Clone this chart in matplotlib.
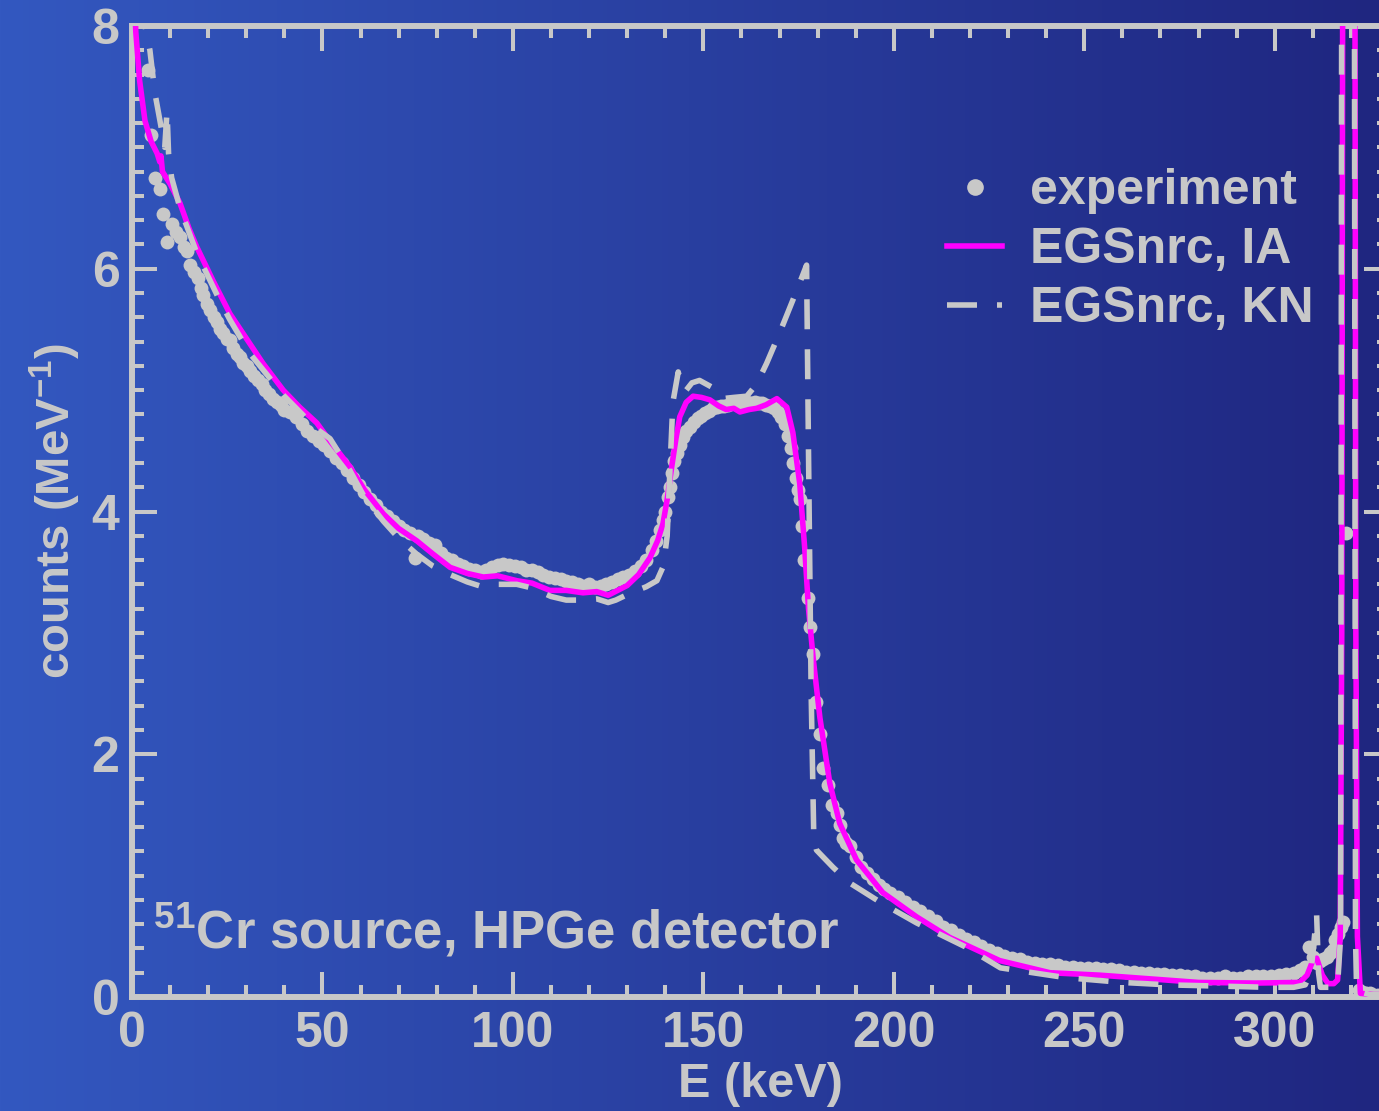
import numpy as np
import matplotlib
matplotlib.use("Agg")
import matplotlib.pyplot as plt
from matplotlib.ticker import MultipleLocator

# ---------------- data ----------------
E_exp = [4.2, 5.0, 6.0, 7.3, 8.2, 9.1, 10.4, 11.5, 12.6, 13.6, 14.4, 15.2, 16.2, 17.3, 18.0,
         18.7, 19.6, 20.5, 21.4, 22.3, 23.2, 24.0, 24.9, 25.7, 26.6, 27.5, 28.3, 29.2, 30.1,
         31.0, 32.0, 33.0, 34.0, 35.0, 36.0, 37.0, 38.0, 39.0, 40.0, 41.5, 43.0, 44.5, 46.0,
         47.5, 49.0, 50.5, 52.0, 53.5, 55.0, 56.5, 58.0, 59.5, 61.0, 62.5, 64.0, 65.5, 67.0,
         68.5, 70.0, 71.5, 73.0, 74.3, 75.0, 76.5, 78.0, 79.5, 81.0, 82.5, 84.0, 85.5, 87.0,
         88.5, 90.0, 91.5, 93.0, 94.5, 96.0, 97.5, 99.0, 100.5, 102.0, 103.5, 105.0, 106.5,
         108.0, 109.5, 111.0, 112.5, 114.0, 115.5, 117.0, 118.5, 120.0, 121.5, 123.0, 124.5,
         126.0, 127.5, 129.0, 130.5, 132.0, 133.5, 135.0, 136.5, 137.5, 138.5, 139.3, 140.0,
         140.6, 141.2, 141.8, 142.4, 143.0, 143.8, 144.6, 145.5, 146.5, 147.5, 148.5, 149.5,
         150.5, 151.5, 152.5, 153.5, 154.5, 155.5, 156.5, 157.5, 158.5, 159.5, 160.5, 161.5,
         162.5, 163.5, 164.5, 165.5, 166.5, 167.5, 168.5, 169.5, 170.5, 171.5, 172.3, 173.0,
         173.5, 174.2, 174.8, 175.3, 175.9, 176.5, 177.4, 178.1, 178.8, 179.7, 180.6, 181.4,
         182.6, 183.7, 185.0, 185.8, 186.6, 187.5, 188.5, 190.0, 191.5, 193.0, 194.5, 196.0,
         197.5, 199.0, 201, 203, 205, 207, 209, 211, 213, 215, 217, 219, 221, 223, 225, 227,
         229, 231, 233, 235, 237, 239, 241, 243, 245, 247, 249, 251, 253, 255, 257, 259, 261,
         263, 265, 267, 269, 271, 273, 275, 277, 279, 281, 283, 285, 287, 289, 291, 293, 295,
         297, 299, 301, 303, 305, 306.6, 308.0, 309.0, 310.0, 311.0, 311.8, 312.8, 313.6,
         314.5, 315.3, 315.7, 316.5, 317.3, 317.8, 318.6, 319.5, 320.5, 322.0, 323, 324, 325,
         326, 327, 328, 329, 330]
y_exp = [7.64, 7.10, 6.75, 6.66, 6.45, 6.22, 6.37, 6.30, 6.26, 6.18, 6.15, 6.03, 5.97, 5.92, 5.84,
         5.78, 5.71, 5.66, 5.60, 5.56, 5.50, 5.47, 5.42, 5.41, 5.35, 5.30, 5.27, 5.22, 5.20,
         5.16, 5.12, 5.08, 5.05, 5.00, 4.97, 4.93, 4.90, 4.88, 4.84, 4.82, 4.78, 4.72, 4.66,
         4.62, 4.58, 4.55, 4.50, 4.44, 4.40, 4.34, 4.28, 4.22, 4.16, 4.10, 4.05, 4.00, 3.96,
         3.92, 3.88, 3.85, 3.82, 3.62, 3.80, 3.77, 3.74, 3.72, 3.66, 3.62, 3.60, 3.57, 3.55,
         3.53, 3.52, 3.50, 3.52, 3.54, 3.56, 3.57, 3.56, 3.55, 3.54, 3.52, 3.52, 3.50,
         3.48, 3.46, 3.45, 3.44, 3.43, 3.42, 3.40, 3.39, 3.40, 3.38, 3.39, 3.40,
         3.42, 3.44, 3.46, 3.48, 3.51, 3.55, 3.60, 3.68, 3.76, 3.85, 3.93, 4.00,
         4.12, 4.20, 4.32, 4.42, 4.48, 4.55, 4.61, 4.66, 4.70, 4.74, 4.77, 4.79,
         4.81, 4.83, 4.85, 4.86, 4.87, 4.87, 4.88, 4.89, 4.89, 4.88, 4.90, 4.90,
         4.89, 4.90, 4.89, 4.89, 4.88, 4.87, 4.85, 4.82, 4.78, 4.72, 4.62, 4.52,
         4.40, 4.28, 4.18, 4.10, 3.88, 3.60, 3.29, 3.05, 2.83, 2.43, 2.17, 1.89,
         1.75, 1.58, 1.52, 1.42, 1.31, 1.27, 1.24, 1.15, 1.07, 1.02, 0.97, 0.92,
         0.89, 0.86, 0.82, 0.78, 0.74, 0.71, 0.67, 0.63, 0.58, 0.55, 0.51, 0.48, 0.45, 0.42, 0.39, 0.36,
         0.34, 0.32, 0.31, 0.29, 0.28, 0.27, 0.27, 0.26, 0.25, 0.25, 0.24, 0.24, 0.24, 0.23, 0.23, 0.22, 0.21,
         0.21, 0.20, 0.20, 0.19, 0.19, 0.18, 0.18, 0.17, 0.17, 0.16, 0.16, 0.16, 0.17, 0.16, 0.16, 0.17, 0.17,
         0.17, 0.17, 0.18, 0.19, 0.20, 0.22, 0.25, 0.41, 0.33, 0.28, 0.30, 0.31, 0.33,
         0.36, 0.39, 0.47, 0.52, 0.58, 0.62, 3.82, 20.0, 20.0, 0.06, 0.04, 0.03, 0.03,
         0.02, 0.02, 0.02, 0.02, 0.02]

E_ia = [0.3, 1, 2, 3.4, 5, 6.6, 7.3, 7.6, 8, 10, 12.6, 15, 17, 21.3, 25.7, 31, 34.4, 39.7, 44,
        48.5, 52, 57.2, 61, 66, 70, 74.7, 79, 83.5, 88, 92.2, 96, 101, 105, 109.7, 114, 118.4,
        122, 125, 127.5, 130, 133, 136, 138, 139.4, 140.5, 141.7, 142.8, 143.8, 145.5, 147.3,
        149.5, 151.7, 154, 156, 158, 159.6, 162, 164, 166.5, 169.3, 171.9, 173.5, 175.3, 176.6,
        177.6, 178.8, 180.6, 183.2, 185.8, 190.2, 197.1, 206, 214.7, 227.8, 241, 254, 267, 280,
        295, 306.6, 308.5, 310, 311, 312.5, 314, 315.5, 316.5, 317.2, 317.6, 318.0, 319.4,
        320.9, 321.3, 321.7, 322.5, 326, 330]
y_ia = [8.5, 7.95, 7.55, 7.22, 7.05, 6.95, 6.88, 6.93, 6.80, 6.70, 6.54, 6.33, 6.18, 5.90, 5.63, 5.38,
        5.22, 5.00, 4.86, 4.73, 4.58, 4.37, 4.18, 3.98, 3.86, 3.76, 3.65, 3.54, 3.49, 3.46, 3.47,
        3.43, 3.41, 3.35, 3.35, 3.33, 3.34, 3.31, 3.35, 3.39, 3.48, 3.62, 3.76, 3.90, 4.10, 4.37,
        4.60, 4.78, 4.90, 4.95, 4.94, 4.92, 4.87, 4.84, 4.85, 4.82, 4.84, 4.85, 4.88, 4.93, 4.86,
        4.65, 4.23, 3.70, 3.20, 2.80, 2.30, 1.76, 1.43, 1.13, 0.86, 0.66, 0.49, 0.30, 0.20, 0.18,
        0.15, 0.12, 0.115, 0.12, 0.18, 0.30, 0.32, 0.18, 0.11, 0.11, 0.14, 0.5, 3.0, 12.0, 40.0,
        12.0, 3.0, 0.5, 0.03, 0.02, 0.02]

E_kn = [2.0, 3.4, 4.7, 6.0, 7.8, 8.6, 9.2, 9.6, 10.4, 12.6, 17, 23, 25.7, 31, 40, 48.5, 52, 57,
        61, 66, 70, 74.7, 79, 83.5, 88, 92, 96, 101, 105, 110, 114, 118, 122, 125, 127, 131,
        135, 137.8, 139.5, 140.5, 141.3, 142.0, 143.4, 144.5, 145.5, 147, 149, 152.5, 155, 158,
        161.4, 164, 166.6, 170, 174.5, 177.1, 177.6, 178.3, 179.0, 179.7, 184, 188.4, 197, 206,
        219, 228, 245, 260, 272, 285, 298, 305, 308, 309.5, 311, 311.5, 312, 315, 316.5, 317.3,
        317.6, 318.0, 319.4, 320.6, 320.9, 321.2, 321.5, 325, 330]
y_kn = [8.6, 8.0, 7.8, 7.45, 7.14, 7.0, 7.3, 6.95, 6.75, 6.50, 6.13, 5.74, 5.58, 5.30, 4.95,
        4.68, 4.60, 4.35, 4.12, 3.92, 3.78, 3.65, 3.55, 3.48, 3.42, 3.38, 3.40, 3.40, 3.37, 3.30,
        3.27, 3.27, 3.28, 3.25, 3.27, 3.33, 3.38, 3.43, 3.55, 3.80, 4.40, 4.90, 5.15, 5.00, 5.00,
        5.06, 5.08, 5.02, 4.93, 4.94, 4.95, 5.05, 5.22, 5.47, 5.82, 6.03, 4.50, 2.50, 1.30, 1.21,
        1.07, 0.94, 0.77, 0.61, 0.41, 0.24, 0.16, 0.12, 0.10, 0.09, 0.08, 0.08, 0.10, 0.20, 0.68,
        0.20, 0.08, 0.08, 0.10, 0.5, 9.0, 30.0, 40.0, 30.0, 9.0, 0.5, 0.05, 0.02, 0.02]

x_ticks = [0, 50, 100, 150, 200, 250, 300]
y_ticks = [0, 2, 4, 6, 8]

# ---------------- style ----------------
GREY = "#c8c8c8"
MAG = "#ff00ff"
plt.rcParams["font.family"] = ["Liberation Sans", "DejaVu Sans"]
plt.rcParams["font.weight"] = "bold"
plt.rcParams["mathtext.default"] = "regular"

W, H = 1379, 1111
fig = plt.figure(figsize=(W / 100, H / 100), dpi=100)

# background gradient
bg = fig.add_axes([0, 0, 1, 1], zorder=-10)
c0 = np.array([51, 88, 192]) / 255.0
c1 = np.array([31, 38, 128]) / 255.0
t = np.linspace(0, 1, 512)[None, :, None]
grad = c0[None, None, :] * (1 - t) + c1[None, None, :] * t
grad = np.repeat(grad, 2, axis=0)
bg.imshow(grad, aspect="auto", extent=[0, 1, 0, 1])
bg.set_axis_off()

x0, x1 = 132, 1389
y0, y1 = 997, 26
ax = fig.add_axes([x0 / W, 1 - y0 / H, (x1 - x0) / W, (y0 - y1) / H])
ax.set_facecolor("none")

ax.plot(E_exp, y_exp, linestyle="none", marker="o", markersize=10, color=GREY,
        markeredgewidth=0, label="experiment", zorder=2)
ax.plot(E_ia, y_ia, color=MAG, lw=4, label="EGSnrc, IA", zorder=3)
ax.plot(E_kn, y_kn, color=GREY, lw=4, dashes=(5.4, 3.6), label="EGSnrc, KN", zorder=4)

ax.set_xlim(0, 330)
ax.set_ylim(0, 8)
ax.set_xticks(x_ticks)
ax.set_yticks(y_ticks)
ax.xaxis.set_minor_locator(MultipleLocator(10))
ax.yaxis.set_minor_locator(MultipleLocator(0.2))
ax.tick_params(which="both", direction="in", top=True, right=True, color=GREY,
               labelcolor=GREY, labelsize=36)
ax.tick_params(which="major", length=18, width=2.9)
ax.tick_params(which="minor", length=8.6, width=2.9)
ax.tick_params(axis="x", which="major", pad=10)
ax.tick_params(axis="y", which="major", pad=9)
for lab in ax.get_xticklabels() + ax.get_yticklabels():
    lab.set_fontweight("bold")
for s in ax.spines.values():
    s.set_color(GREY)
    s.set_linewidth(4.3)

ax.set_xlabel("E (keV)", fontsize=35, color=GREY, fontweight="bold", labelpad=4)
ax.set_ylabel("counts (MeV$^{-1}$)", fontsize=34, color=GREY, fontweight="bold", labelpad=6)

ax.text(5.5, 0.40, "$^{51}$Cr source, HPGe detector", fontsize=38, color=GREY,
        fontweight="bold", ha="left", va="baseline", zorder=5)

leg = ax.legend(loc="upper left", bbox_to_anchor=((947 - x0) / (x1 - x0), (y0 - 168) / (y0 - y1)),
                frameon=False, fontsize=36, handlelength=1.1, handletextpad=0.56,
                labelspacing=0.26, borderpad=0, borderaxespad=0, numpoints=1, markerscale=1.2)
for txt in leg.get_texts():
    txt.set_color(GREY)
    txt.set_fontweight("bold")

fig.savefig("out.png", dpi=100)
